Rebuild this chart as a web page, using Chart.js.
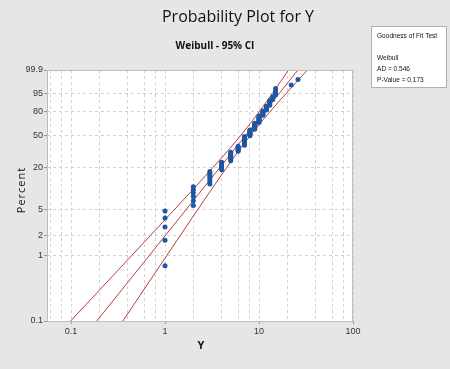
<!DOCTYPE html>
<html>
<head>
<meta charset="utf-8">
<script src="https://cdn.jsdelivr.net/npm/chart.js@4.4.1/dist/chart.umd.min.js"></script>
<style>
  html, body { margin: 0; padding: 0; background: #e6e6e6; }
  #wrap { width: 450px; height: 369px; }
</style>
</head>
<body>
<div id="wrap"><canvas id="probChart" width="450" height="369"></canvas></div>
<script>
// observed Y values (sorted), one per plotted point
const obsY = [
  1, 1, 1, 1, 1,
  2, 2, 2, 2, 2, 2,
  3, 3, 3, 3, 3, 3, 3,
  4, 4, 4, 4, 4, 4,
  5, 5, 5, 5, 5, 5, 5, 5,
  6, 6, 6, 6, 6, 6,
  7, 7, 7, 7, 7, 7, 7, 7, 7, 7, 7,
  8, 8, 8, 8, 8, 8, 8, 8,
  9, 9, 9, 9, 9, 9, 9, 9, 9,
  10, 10, 10, 10, 10, 10, 10, 10, 10,
  11, 11, 11, 11, 11, 11,
  12, 12, 12, 12, 12,
  13, 13, 13, 13, 13,
  14, 14, 14,
  15, 15, 15, 15,
  22, 26
];

// plotted percent for each point
const obsPct = [
  0.7, 1.7, 2.7, 3.7, 4.7,
  5.7, 6.7, 7.7, 8.7, 9.7, 10.7,
  11.7, 12.6, 13.6, 14.6, 15.6, 16.6, 17.6,
  18.6, 19.6, 20.6, 21.6, 22.6, 23.6,
  24.6, 25.6, 26.6, 27.6, 28.6, 29.6, 30.6, 31.6,
  32.6, 33.6, 34.6, 35.6, 36.6, 37.5,
  38.5, 39.5, 40.5, 41.5, 42.5, 43.5, 44.5, 45.5, 46.5, 47.5, 48.5,
  49.5, 50.5, 51.5, 52.5, 53.5, 54.5, 55.5, 56.5,
  57.5, 58.5, 59.5, 60.5, 61.5, 62.4, 63.4, 64.4, 65.4,
  66.4, 67.4, 68.4, 69.4, 70.4, 71.4, 72.4, 73.4, 74.4,
  75.4, 76.4, 77.4, 78.4, 79.4, 80.4,
  81.4, 82.4, 83.4, 84.4, 85.4,
  86.4, 87.3, 88.3, 89.3, 90.3,
  91.3, 92.3, 93.3,
  94.3, 95.3, 96.3, 97.3,
  98.3, 99.3
];

// fitted Weibull line (percent -> Y)
const fitPct = [0.1, 99.9];
const fitX = [0.188, 26.0];

// 95% confidence bounds
const ciPct = [0.1, 0.5, 1, 2, 5, 10, 20, 35, 50, 65, 80, 90, 95, 99, 99.9];
const ciLowX = [0.099, 0.282, 0.443, 0.696, 1.27, 2.015, 3.24, 4.856, 6.419, 8.08, 10.11, 12.11, 13.79, 16.99, 20.63];
const ciHighX = [0.356, 0.755, 1.044, 1.448, 2.243, 3.156, 4.534, 6.299, 8.101, 10.23, 13.16, 16.38, 19.29, 25.3, 32.76];

// axes
const yTickPct = [0.1, 1, 2, 5, 20, 50, 80, 95, 99.9];
const yTickLabels = ["0.1", "1", "2", "5", "20", "50", "80", "95", "99.9"];
const xGridVals = [0.06, 0.08, 0.1, 0.2, 0.4, 0.6, 0.8, 1, 2, 4, 6, 8, 10, 20, 40, 60, 80, 100];
const xTickLabels = { 0.1: "0.1", 1: "1", 10: "10", 100: "100" };

const fitStats = ["Goodness of Fit Test", "", "Weibull", "AD = 0.546", "P-Value = 0.173"];

// Weibull probability scale
function weib(pct) {
  return Math.log(-Math.log(1 - pct / 100));
}

function pairs(xs, ps) {
  return xs.map((x, i) => ({ x: x, y: weib(ps[i]) }));
}

const LINE_RED = "#b8403f";
const TEXT = "#111";

const decorPlugin = {
  id: "decor",
  beforeDraw(chart) {
    const { ctx, chartArea: a } = chart;
    ctx.save();
    ctx.fillStyle = "#e6e6e6";
    ctx.fillRect(0, 0, chart.width, chart.height);
    ctx.fillStyle = "#ffffff";
    ctx.fillRect(a.left, a.top, a.right - a.left, a.bottom - a.top);
    ctx.restore();
  },
  afterDraw(chart) {
    const { ctx, chartArea: a } = chart;
    ctx.save();
    ctx.strokeStyle = "#bdbdbd";
    ctx.lineWidth = 1;
    ctx.strokeRect(a.left + 0.5, a.top + 0.5, a.right - a.left - 1, a.bottom - a.top);

    ctx.fillStyle = TEXT;
    ctx.textAlign = "center";
    ctx.textBaseline = "middle";
    ctx.font = '16px "Open Sans", sans-serif';
    ctx.fillText("Probability Plot for Y", 238, 17);
    ctx.font = 'bold 10px "Open Sans", sans-serif';
    ctx.fillText("Weibull - 95% CI", 215, 46);

    ctx.font = 'bold 11px "Open Sans", sans-serif';
    ctx.fillText("Y", 201, 346);

    ctx.save();
    ctx.translate(22, 190);
    ctx.rotate(-Math.PI / 2);
    ctx.font = '11px "Open Sans", sans-serif';
    ctx.letterSpacing = "1px";
    ctx.fillText("Percent", 0, 0);
    ctx.restore();

    // fit test box
    ctx.fillStyle = "#ffffff";
    ctx.fillRect(371, 26, 75, 61);
    ctx.strokeStyle = "#b0b0b0";
    ctx.strokeRect(371.5, 26.5, 75, 61);
    ctx.fillStyle = TEXT;
    ctx.textAlign = "left";
    ctx.font = '8px "Liberation Sans", sans-serif';
    let y = 36;
    fitStats.forEach((line) => {
      if (line) {
        ctx.save();
        ctx.translate(377, y);
        ctx.scale(0.82, 1);
        ctx.fillText(line, 0, 0);
        ctx.restore();
      }
      y += 11;
    });
    ctx.restore();
  }
};

new Chart(document.getElementById("probChart"), {
  type: "scatter",
  data: {
    datasets: [
      {
        label: "Y",
        data: pairs(obsY, obsPct),
        backgroundColor: "#1d56a3",
        borderColor: "#1d56a3",
        pointRadius: 2.5,
        pointBorderWidth: 0
      },
      {
        label: "Fit",
        data: pairs(fitX, fitPct),
        showLine: true,
        borderColor: LINE_RED,
        borderWidth: 1,
        pointRadius: 0
      },
      {
        label: "Lower",
        data: pairs(ciLowX, ciPct),
        showLine: true,
        borderColor: LINE_RED,
        borderWidth: 1,
        pointRadius: 0,
        cubicInterpolationMode: "monotone"
      },
      {
        label: "Upper",
        data: pairs(ciHighX, ciPct),
        showLine: true,
        borderColor: LINE_RED,
        borderWidth: 1,
        pointRadius: 0,
        cubicInterpolationMode: "monotone"
      }
    ]
  },
  options: {
    responsive: false,
    animation: false,
    events: [],
    layout: { padding: { top: 70, right: 97, left: 0, bottom: 0 } },
    plugins: {
      legend: { display: false },
      tooltip: { enabled: false },
      title: { display: false }
    },
    scales: {
      x: {
        type: "logarithmic",
        min: 0.0555,
        max: 100,
        afterBuildTicks(scale) {
          scale.ticks = xGridVals.map((v) => ({ value: v }));
        },
        afterFit(scale) {
          scale.height = 48;
        },
        ticks: {
          autoSkip: false,
          maxRotation: 0,
          padding: 2,
          color: "#333",
          font: { family: "Liberation Sans", size: 9 },
          callback(value) {
            return xTickLabels[value] || "";
          }
        },
        grid: {
          color: "#d2d2d2",
          tickLength: 3,
          tickColor: (c) => (c.tick && xTickLabels[c.tick.value] ? "#999" : "rgba(0,0,0,0)")
        },
        border: { display: false, dash: [3, 3] }
      },
      y: {
        type: "linear",
        min: weib(0.1),
        max: weib(99.9),
        afterBuildTicks(scale) {
          scale.ticks = yTickPct.map((p) => ({ value: weib(p) }));
        },
        afterFit(scale) {
          scale.width = 47;
        },
        ticks: {
          autoSkip: false,
          padding: 1,
          color: "#333",
          font: { family: "Liberation Sans", size: 9 },
          callback(value, index) {
            return yTickLabels[index];
          }
        },
        grid: {
          color: "#d2d2d2",
          tickLength: 3,
          tickColor: "#999"
        },
        border: { display: false, dash: [3, 3] }
      }
    }
  },
  plugins: [decorPlugin]
});
</script>
</body>
</html>
